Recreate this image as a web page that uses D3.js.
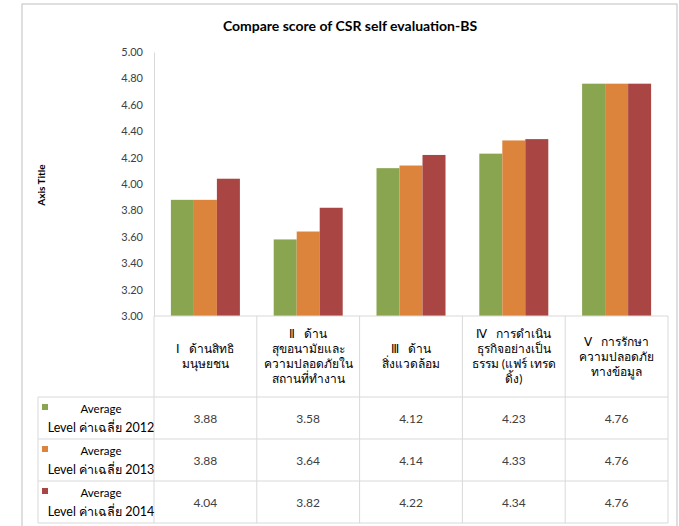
<!DOCTYPE html>
<html>
<head>
<meta charset="utf-8">
<script src="https://cdn.jsdelivr.net/npm/d3@7"></script>
<style>
  body { margin: 0; background: #fff; }
  text { font-family: Lato, "Noto Sans", sans-serif; }
</style>
</head>
<body>
<script>
// chart data
const categories = ["I", "II", "III", "IV", "V"];
const categoryLabels = [
  ["Ⅰ\u00a0\u00a0\u00a0ด้านสิทธิ", "มนุษยชน"],
  ["Ⅱ\u00a0\u00a0\u00a0ด้าน", "สุขอนามัยและ", "ความปลอดภัยใน", "สถานที่ทำงาน"],
  ["Ⅲ\u00a0\u00a0\u00a0ด้าน", "สิ่งแวดล้อม"],
  ["Ⅳ\u00a0\u00a0\u00a0การดำเนิน", "ธุรกิจอย่างเป็น", "ธรรม (แฟร์ เทรด", "ดิ้ง)"],
  ["Ⅴ\u00a0\u00a0\u00a0การรักษา", "ความปลอดภัย", "ทางข้อมูล"]
];
const seriesNames = ["2012", "2013", "2014"];
const values2012 = [3.88, 3.58, 4.12, 4.23, 4.76];
const values2013 = [3.88, 3.64, 4.14, 4.33, 4.76];
const values2014 = [4.04, 3.82, 4.22, 4.34, 4.76];
const yTicks = [3.0, 3.2, 3.4, 3.6, 3.8, 4.0, 4.2, 4.4, 4.6, 4.8, 5.0];

const series = [values2012, values2013, values2014];
const colors = ["#8aa54f", "#dd843c", "#a94543"];

const width = 679, height = 526;
const plot = { left: 154, right: 668, top: 52, bottom: 316 };
const tableTop = 397, rowH = 42;

const svg = d3.select("body").append("svg")
  .attr("width", width)
  .attr("height", height);

// outer frame
svg.append("rect")
  .attr("x", 22).attr("y", 4)
  .attr("width", 655).attr("height", 540)
  .attr("fill", "none")
  .attr("stroke", "#bfbfbf");

svg.append("text")
  .attr("x", 350).attr("y", 31)
  .attr("text-anchor", "middle")
  .style("font-size", "14px")
  .style("font-weight", "bold")
  .attr("fill", "#000")
  .text("Compare score of CSR self evaluation-BS");

svg.append("text")
  .attr("transform", "translate(45,185) rotate(-90)")
  .attr("text-anchor", "middle")
  .style("font-size", "10px")
  .style("font-weight", "bold")
  .text("Axis Title");

const x = d3.scaleBand().domain(categories).range([plot.left, plot.right]);
const xs = d3.scaleBand().domain(seriesNames).range([0, 69]);
const y = d3.scaleLinear().domain([3, 5]).range([plot.bottom, plot.top]);

// y axis
const yAxis = svg.append("g")
  .attr("transform", `translate(${plot.left},0)`)
  .call(d3.axisLeft(y).tickValues(yTicks).tickFormat(d3.format(".2f")).tickSize(0).tickPadding(11));
yAxis.select(".domain").attr("stroke", "#d9d9d9");
yAxis.selectAll("text").style("font-size", "11px").attr("fill", "#404040");

// bars
series.forEach((vals, s) => {
  svg.append("g").selectAll("rect")
    .data(vals)
    .enter()
    .append("rect")
    .attr("x", (d, i) => x(categories[i]) + (x.bandwidth() - 69) / 2 + xs(seriesNames[s]))
    .attr("y", (d) => y(d))
    .attr("width", xs.bandwidth())
    .attr("height", (d) => y(3) - y(d))
    .attr("fill", colors[s]);
});

// table grid
const grid = svg.append("g").attr("stroke", "#d9d9d9").attr("fill", "none");
grid.append("line").attr("x1", plot.left).attr("x2", plot.right).attr("y1", plot.bottom).attr("y2", plot.bottom);
grid.append("line").attr("x1", plot.right).attr("x2", plot.right).attr("y1", plot.bottom).attr("y2", tableTop + 3 * rowH);
for (let r = 0; r <= 3; r++) {
  grid.append("line").attr("x1", 38).attr("x2", plot.right)
    .attr("y1", tableTop + r * rowH).attr("y2", tableTop + r * rowH);
}
grid.append("line").attr("x1", 38).attr("x2", 38).attr("y1", tableTop).attr("y2", tableTop + 3 * rowH);
categories.forEach((c) => {
  grid.append("line").attr("x1", x(c)).attr("x2", x(c))
    .attr("y1", plot.bottom).attr("y2", tableTop + 3 * rowH);
});

// category labels
categoryLabels.forEach((lines, i) => {
  const cx = x(categories[i]) + x.bandwidth() / 2;
  const lh = 15;
  const y0 = (plot.bottom + tableTop) / 2 - (lines.length - 1) * lh / 2 + 4;
  const t = svg.append("text")
    .attr("text-anchor", "middle")
    .style("font-size", "12px")
    .attr("fill", "#000");
  lines.forEach((l, k) => {
    t.append("tspan").attr("x", cx).attr("y", y0 + k * lh).text(l);
  });
});

// table rows
series.forEach((vals, s) => {
  const ry = tableTop + s * rowH;
  svg.append("rect")
    .attr("x", 42).attr("y", ry + 7)
    .attr("width", 6).attr("height", 6)
    .attr("fill", colors[s]);
  svg.append("text")
    .attr("x", 101).attr("y", ry + 16)
    .attr("text-anchor", "middle")
    .style("font-size", "11.5px")
    .text("Average");
  svg.append("text")
    .attr("x", 101).attr("y", ry + 35)
    .attr("text-anchor", "middle")
    .style("font-size", "12.5px")
    .text("Level ค่าเฉลี่ย " + seriesNames[s]);
  svg.append("g").selectAll("text")
    .data(vals)
    .enter()
    .append("text")
    .attr("x", (d, i) => x(categories[i]) + x.bandwidth() / 2)
    .attr("y", ry + 26)
    .attr("text-anchor", "middle")
    .style("font-size", "12px")
    .attr("fill", "#404040")
    .text((d) => d.toFixed(2));
});
</script>
</body>
</html>
